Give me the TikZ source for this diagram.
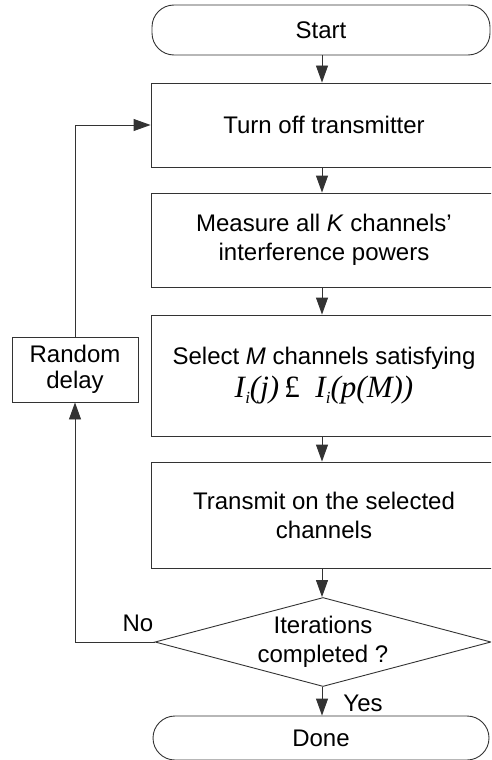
\documentclass[tikz,border=0pt]{standalone}
\usepackage{fontspec}
\setmainfont{Liberation Sans}
\newfontfamily\formfont{Liberation Serif}
\usetikzlibrary{arrows.meta,shapes.geometric}
\newcommand{\Isubi}{\textit{I}\kern-1pt\raisebox{-6pt}{\fontsize{17}{17}\selectfont\textit{i}}}
\begin{document}
\begin{tikzpicture}[x=1pt,y=-1pt,
  every node/.style={font=\fontsize{24}{29}\selectfont},
  proc/.style={draw=black!80,line width=0.9pt,minimum width=346pt,inner sep=0,align=center},
  term/.style={draw=black!80,line width=0.9pt,rounded corners=22pt,inner sep=0},
  conn/.style={draw=black!80,line width=0.9pt,-{Triangle[length=17pt,width=12pt]}},
  plain/.style={draw=black!80,line width=0.9pt}
  ]
\useasboundingbox (0,0) rectangle (491,760);
\clip (0,0) rectangle (491,760);
\node[term, minimum width=338pt, minimum height=50pt] (start) at (321,30) {Start};
\node[proc, minimum height=84pt] (b1) at (324,125) {Turn off transmitter};
\node[proc, minimum height=94pt] (b2) at (324,240) {Measure all \textit{K} channels’\\interference powers};
\node[proc, minimum height=121pt] (b3) at (324,375.5) {Select \textit{M} channels satisfying\\[4pt]{\formfont\fontsize{31}{31}\selectfont\Isubi\textit{(j)}\,£\enspace\Isubi\textit{(p(M))}}};
\node[proc, minimum height=106pt] (b4) at (324,515) {Transmit on the selected\\channels};
\node[draw=black!80, line width=0.9pt, diamond, minimum width=336pt, minimum height=89pt, inner sep=0] (dec) at (323,642) {};
\node[align=center] (dect) at (dec.center) {Iterations\\completed ?};
\node[term, minimum width=336pt, minimum height=44pt] (done) at (321,738) {Done};
\node[plain, minimum width=126pt, minimum height=65pt, align=center, inner sep=0, font=\fontsize{24}{26}\selectfont] (delay) at (75,369.5) {Random\\delay};
\node (no) at (138,623) {No};
\node (yes) at (363,703) {Yes};
\draw[conn] (start.south -| 322,0) -- (b1.north -| 322,0);
\draw[conn] (b1.south -| 322,0) -- (b2.north -| 322,0);
\draw[conn] (b2.south -| 322,0) -- (b3.north -| 322,0);
\draw[conn] (b3.south -| 322,0) -- (b4.north -| 322,0);
\draw[conn] (b4.south -| 322,0) -- (dec.north -| 322,0);
\draw[conn] (dec.south -| 322,0) -- (done.north -| 322,0);
\draw[conn] (dec.west) -| (delay.south);
\draw[conn] (delay.north) |- (b1.west);
\end{tikzpicture}
\end{document}
